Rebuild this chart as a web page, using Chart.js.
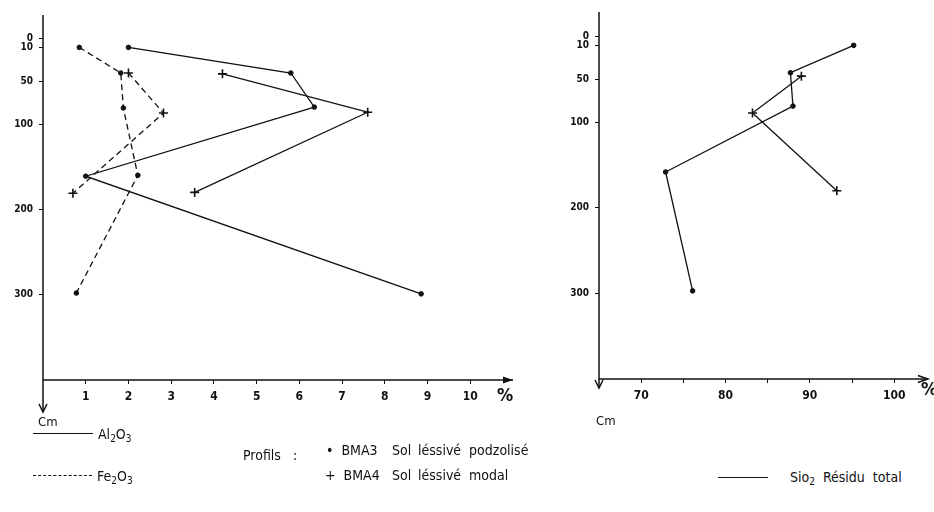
<!DOCTYPE html>
<html>
<head>
<meta charset="utf-8">
<script src="https://cdn.jsdelivr.net/npm/chart.js@4.4.1/dist/chart.umd.min.js"></script>
<style>
  body { margin: 0; background: #fff; width: 934px; height: 512px; position: relative; overflow: hidden;
         font-family: "Liberation Sans Narrow", "DejaVu Sans Condensed", sans-serif; color: #111; }
  canvas { position: absolute; }
  .t { position: absolute; font-size: 14px; white-space: nowrap; line-height: 1; }
  .t sub { font-size: 10px; vertical-align: -3px; line-height: 0; }
  .ln { position: absolute; height: 0; border-top: 1.5px solid #111; }
  .dash { border-top: 1.5px dashed #111; }
</style>
</head>
<body>
<canvas id="left" width="540" height="420" style="left:0;top:0"></canvas>
<canvas id="right" width="374" height="420" style="left:560px;top:0"></canvas>

<div class="t" style="left:497px;top:386px;font-size:18px;font-weight:bold">%</div>
<div class="t" style="left:921px;top:380px;font-size:18px;font-weight:bold">%</div>
<div class="t" style="left:38px;top:415px;font-size:13px">Cm</div>
<div class="t" style="left:596px;top:414px;font-size:13px">Cm</div>

<div class="ln" style="left:33px;top:433px;width:60px"></div>
<div class="t" style="left:98px;top:427px">Al<sub>2</sub>O<sub>3</sub></div>
<div class="ln dash" style="left:33px;top:475px;width:59px"></div>
<div class="t" style="left:97px;top:469px">Fe<sub>2</sub>O<sub>3</sub></div>

<div class="t" style="left:243px;top:448px">Profils&nbsp;&nbsp;&nbsp;:</div>
<div class="t" style="left:326px;top:443px">•&nbsp; BMA3</div>
<div class="t" style="left:392px;top:443px">Sol</div>
<div class="t" style="left:418px;top:443px">léssivé&nbsp; podzolisé</div>
<div class="t" style="left:325px;top:468px">+&nbsp; BMA4</div>
<div class="t" style="left:392px;top:468px">Sol</div>
<div class="t" style="left:418px;top:468px">léssivé&nbsp; modal</div>

<div class="ln" style="left:718px;top:477px;width:50px"></div>
<div class="t" style="left:790px;top:470px">Sio<sub>2</sub>&nbsp; Résidu&nbsp; total</div>

<script>
// depth tick labels (cm) shared by both panels
const depthTicks = [0, 10, 50, 100, 200, 300];
const pctTicks = [1, 2, 3, 4, 5, 6, 7, 8, 9, 10];
const sioTicks = [70, 75, 80, 85, 90, 95, 100];

// Al2O3 (%), solid lines
const alBma3 = [2.0, 5.8, 6.35, 1.0, 8.85];
const alBma3Depth = [10, 40, 80, 161, 299];
const alBma4 = [4.2, 7.6, 3.55];
const alBma4Depth = [41, 86, 180];

// Fe2O3 (%), dashed lines
const feBma3 = [0.85, 1.82, 1.88, 2.22, 0.78];
const feBma3Depth = [10, 40, 81, 160, 298];
const feBma4 = [2.0, 2.82, 0.7];
const feBma4Depth = [40, 87, 181];

// SiO2 residu total (%)
const siBma3 = [95.2, 87.7, 88.0, 72.9, 76.1];
const siBma3Depth = [10, 42, 81, 158, 297];
const siBma4 = [89.0, 83.2, 93.2];
const siBma4Depth = [46, 89, 180];

const ink = '#111';

function pts(xs, ys) {
  return xs.map((v, i) => ({ x: v, y: ys[i] }));
}

function series(xs, ys, cross, dashed) {
  return {
    data: pts(xs, ys),
    showLine: true,
    borderColor: ink,
    backgroundColor: ink,
    borderWidth: 1.3,
    borderDash: dashed ? [6, 4] : [],
    pointStyle: cross ? 'cross' : 'circle',
    pointRadius: cross ? 4.5 : 2.3,
    pointBorderWidth: cross ? 1.6 : 1,
    tension: 0
  };
}

const axesArrows = {
  id: 'axesArrows',
  afterDraw(chart, args, opts) {
    const { ctx, chartArea: a } = chart;
    ctx.save();
    ctx.strokeStyle = ink;
    ctx.fillStyle = ink;
    ctx.lineWidth = 1.5;
    ctx.beginPath();
    ctx.moveTo(a.left, a.top);
    ctx.lineTo(a.left, a.bottom + opts.down);
    ctx.moveTo(a.left, a.bottom);
    ctx.lineTo(a.right, a.bottom);
    ctx.stroke();
    // down arrow
    const yb = a.bottom + opts.down;
    ctx.beginPath();
    ctx.moveTo(a.left - 4, yb - 8);
    ctx.lineTo(a.left, yb);
    ctx.lineTo(a.left + 4, yb - 8);
    ctx.stroke();
    // right arrow
    ctx.beginPath();
    ctx.moveTo(a.right - 10, a.bottom - 3.5);
    ctx.lineTo(a.right, a.bottom);
    ctx.lineTo(a.right - 10, a.bottom + 3.5);
    if (opts.filled) { ctx.closePath(); ctx.fill(); } else { ctx.stroke(); }
    ctx.restore();
  }
};

const tickFont = { family: '"Liberation Sans Narrow", "DejaVu Sans Condensed", sans-serif', size: 12, weight: 'bold' };
const depthFont = { family: '"Liberation Sans Narrow", "DejaVu Sans Condensed", sans-serif', size: 10, weight: 'bold' };

function makeChart(id, datasets, xs) {
  return new Chart(document.getElementById(id), {
    type: 'scatter',
    data: { datasets: datasets },
    plugins: [axesArrows],
    options: {
      responsive: false,
      animation: false,
      layout: { padding: xs.padding },
      plugins: {
        legend: { display: false },
        tooltip: { enabled: false },
        axesArrows: { down: xs.down, filled: xs.filled }
      },
      scales: {
        x: {
          type: 'linear',
          min: xs.min,
          max: xs.max,
          afterBuildTicks: s => { s.ticks = xs.ticks.map(v => ({ value: v })); },
          afterFit: s => { s.height = xs.xh; },
          border: { display: false },
          grid: { drawOnChartArea: false, tickLength: 4, color: ink, lineWidth: 1 },
          ticks: {
            color: ink, font: tickFont, padding: 6, maxRotation: 0,
            callback: v => (xs.labelEvery ? (v % xs.labelEvery === 0 ? v : '') : v)
          }
        },
        y: {
          type: 'linear',
          reverse: true,
          min: xs.ymin,
          max: 400,
          afterBuildTicks: s => { s.ticks = depthTicks.map(v => ({ value: v })); },
          afterFit: s => { s.width = xs.yw; },
          border: { display: false },
          grid: { drawOnChartArea: false, tickLength: 4, color: ink, lineWidth: 1 },
          ticks: { color: ink, font: depthFont, padding: 6 }
        }
      }
    }
  });
}

makeChart('left', [
  series(alBma3, alBma3Depth, false, false),
  series(alBma4, alBma4Depth, true, false),
  series(feBma3, feBma3Depth, false, true),
  series(feBma4, feBma4Depth, true, true)
], { min: 0, max: 11, ymin: -28, ticks: pctTicks, padding: { left: 0, top: 15, right: 27, bottom: 0 },
     yw: 43, xh: 40, down: 32, filled: true });

makeChart('right', [
  series(siBma3, siBma3Depth, false, false),
  series(siBma4, siBma4Depth, true, false)
], { min: 65, max: 104, ymin: -29, ticks: sioTicks, labelEvery: 10, padding: { left: 0, top: 12, right: 1, bottom: 0 },
     yw: 39, xh: 41, down: 9, filled: false });
</script>
</body>
</html>
